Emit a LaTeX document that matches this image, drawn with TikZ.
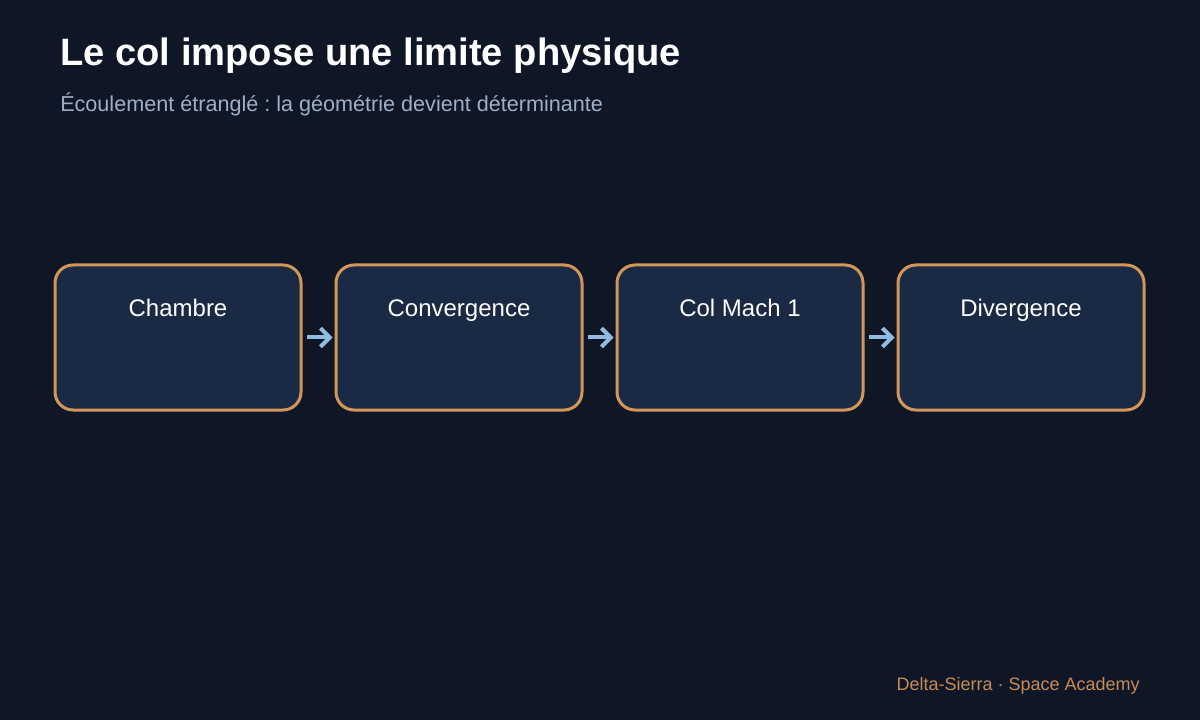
\documentclass[tikz,border=0pt]{standalone}
\usepackage{fontspec}
\setmainfont{Liberation Sans}
\usetikzlibrary{arrows.meta}
\frenchspacing
\definecolor{bg}{HTML}{0F1727}
\definecolor{boxfill}{HTML}{1A2A44}
\definecolor{boxline}{HTML}{D29659}
\definecolor{subt}{HTML}{9DB0C8}
\definecolor{foot}{HTML}{C98B55}
\definecolor{arr}{HTML}{8FBCE0}
\begin{document}
\begin{tikzpicture}[x=0.75pt,y=-0.75pt,
  stagebox/.style={draw=boxline,fill=boxfill,line width=2.25pt,rounded corners=13.5pt,minimum width=184.5pt,minimum height=108.75pt,inner sep=0pt},
  stagelabel/.style={text=white,anchor=base,font=\fontsize{18}{21}\selectfont},
  flow/.style={draw=arr,line width=3pt,-{Straight Barb[length=7pt,width=14pt,line width=3pt]},shorten <=3.5pt,shorten >=1.5pt}]
\fill[bg] (0,0) rectangle (1200,720);
\useasboundingbox (0,0) rectangle (1200,720);
\node[anchor=base west,text=white,font=\bfseries\fontsize{28.6}{34}\selectfont,inner sep=0pt] (title) at (60,66) {Le col impose une limite physique};
\node[anchor=base west,text=subt,font=\fontsize{16.2}{19}\selectfont,inner sep=0pt] (sub) at (60,112) {Écoulement étranglé : la géométrie devient déterminante};
\node[stagebox] (b1) at (178,337.5) {};
\node[stagebox] (b2) at (459,337.5) {};
\node[stagebox] (b3) at (740,337.5) {};
\node[stagebox] (b4) at (1021,337.5) {};
\node[stagelabel] (l1) at (178,317) {Chambre};
\node[stagelabel] (l2) at (459,317) {Convergence};
\node[stagelabel] (l3) at (740,317) {Col Mach 1};
\node[stagelabel] (l4) at (1021,317) {Divergence};
\draw[flow] (b1.east) -- (b2.west);
\draw[flow] (b2.east) -- (b3.west);
\draw[flow] (b3.east) -- (b4.west);
\node[anchor=base east,text=foot,font=\fontsize{13.5}{16}\selectfont,inner sep=0pt] (foot) at (1140,690) {Delta-Sierra · Space Academy};
\end{tikzpicture}
\end{document}
